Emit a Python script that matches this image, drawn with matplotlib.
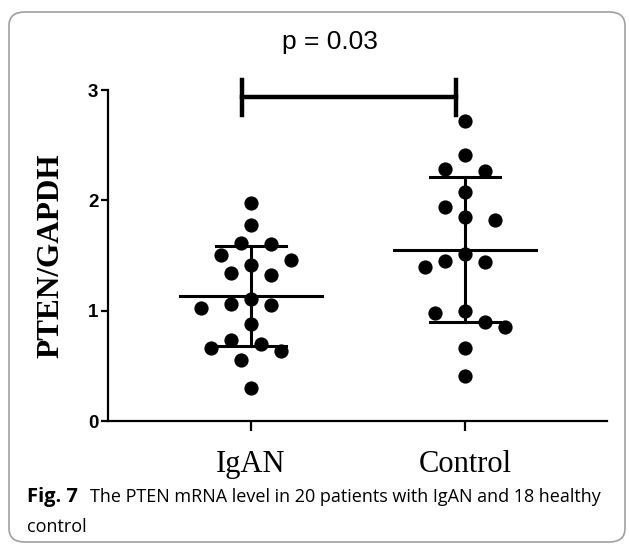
import numpy as np
import matplotlib.pyplot as plt
from matplotlib.patches import FancyBboxPatch

# PTEN/GAPDH values
igan = [1.98, 1.78, 1.61, 1.60, 1.505, 1.46, 1.41, 1.34, 1.32, 1.11,
        1.06, 1.05, 1.02, 0.88, 0.73, 0.70, 0.66, 0.63, 0.55, 0.30]
control = [2.72, 2.41, 2.28, 2.27, 2.08, 1.94, 1.85, 1.82, 1.51, 1.45,
           1.44, 1.40, 1.00, 0.98, 0.90, 0.855, 0.66, 0.41]
groups = ["IgAN", "Control"]
group_values = [igan, control]
p_text = "p = 0.03"

W, H = 629, 546
fig = plt.figure(figsize=(W / 100, H / 100), dpi=100)

# rounded frame around figure + caption
frame = FancyBboxPatch((9 / W, 4 / H), 616 / W, 530 / H,
                       boxstyle="round,pad=0,rounding_size=0.025",
                       transform=fig.transFigure, fill=False,
                       edgecolor="#a0a0a0", linewidth=1.2)
fig.patches.append(frame)

ax = fig.add_axes([108 / W, (H - 421) / H, (607 - 108) / W, (421 - 90) / H])
ax.set_xlim(-0.668, 1.664)
ax.set_ylim(0, 3)


def swarm_offsets(vals, center, step=10.0, dmin=20.5):
    # simple greedy beeswarm in pixel space
    pts = ax.transData.transform(np.column_stack([np.full(len(vals), center), vals]))
    placed = []
    xs = []
    for px, py in pts:
        k = 0
        while True:
            found = False
            for cand in ([0] if k == 0 else [-k, k]):
                x = px + cand * step
                if all((x - qx) ** 2 + (py - qy) ** 2 >= dmin ** 2 for qx, qy in placed):
                    found = True
                    break
            if found:
                break
            k += 1
        placed.append((x, py))
        xs.append(x)
    back = ax.transData.inverted().transform(np.column_stack([xs, pts[:, 1]]))
    return back[:, 0]


for i, vals in enumerate(group_values):
    vals = np.array(vals)
    xs = swarm_offsets(vals, i)
    ax.scatter(xs, vals, s=105, color="black", zorder=3, linewidths=0)
    m = vals.mean()
    sd = vals.std(ddof=1)
    ax.plot([i - 0.33, i + 0.33], [m, m], color="black", lw=2.2, zorder=4)
    ax.plot([i - 0.165, i + 0.165], [m + sd, m + sd], color="black", lw=2.2, zorder=4)
    ax.plot([i - 0.165, i + 0.165], [m - sd, m - sd], color="black", lw=2.2, zorder=4)
    ax.plot([i, i], [m - sd, m + sd], color="black", lw=2.2, zorder=4)

# significance bracket
ax.plot([-0.04, 0.96], [2.94, 2.94], color="black", lw=3.2, clip_on=False)
ax.plot([-0.04, -0.04], [2.77, 3.09], color="black", lw=3.2, clip_on=False)
ax.plot([0.96, 0.96], [2.77, 3.09], color="black", lw=3.2, clip_on=False)
fig.text(330 / W, 1 - 42 / H, p_text, ha="center", va="center",
         fontsize=19, family="Liberation Sans")

for side in ["top", "right"]:
    ax.spines[side].set_visible(False)
for side in ["left", "bottom"]:
    ax.spines[side].set_linewidth(1.6)

ax.set_yticks([0, 1, 2, 3])
ax.set_yticklabels(["0", "1", "2", "3"], fontsize=13.5, fontweight="bold",
                   family="Liberation Sans")
ax.set_xticks([0, 1])
ax.set_xticklabels(groups, fontsize=22, family="Liberation Serif")
ax.tick_params(axis="y", length=5, width=1.6, pad=2)
ax.tick_params(axis="x", length=7, width=1.6, pad=14)
ax.set_ylabel("PTEN/GAPDH", fontsize=22.5, fontweight="bold",
              family="Liberation Serif", labelpad=16)

# caption
fig.text(27 / W, 1 - 497 / H, "Fig. 7", fontsize=14.5, va="center",
         family="Open Sans", fontweight="bold")
fig.text(90 / W, 1 - 497 / H, "The PTEN mRNA level in 20 patients with IgAN and 18 healthy",
         fontsize=13, va="center", family="Open Sans")
fig.text(27 / W, 1 - 527 / H, "control", fontsize=13, va="center", family="Open Sans")

fig.savefig("out.png", dpi=100)
